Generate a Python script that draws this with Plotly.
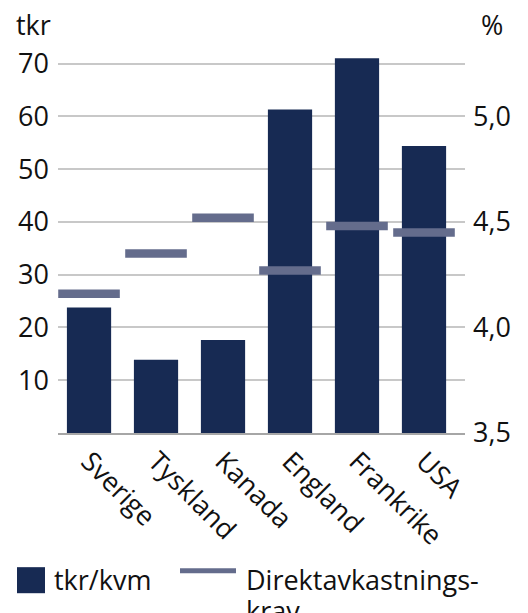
import plotly.graph_objects as go

categories = ["Sverige", "Tyskland", "Kanada", "England", "Frankrike", "USA"]
tkr_kvm = [23.8, 13.9, 17.6, 61.3, 71.0, 54.4]
direktavkastningskrav = [4.16, 4.35, 4.52, 4.27, 4.48, 4.45]
left_ticks = [10, 20, 30, 40, 50, 60, 70]
right_ticks = [3.5, 3.75, 4.0, 4.25, 4.5, 4.75, 5.0, 5.25]
right_labels = ["3,5", "", "4,0", "", "4,5", "", "5,0", ""]

BAR = "#172a53"
LINE = "#646c8c"
FONT = "Open Sans"
FS = 27

W, H = 528, 613
UNIT = 5.271          # px per left-axis unit
L, R, B = 58, 465, 433
YMAX = 72
T = B - YMAX * UNIT
pw, ph = R - L, B - T

def px(x):
    return (x - L) / pw

def py(y):
    return (B - y) / ph

fig = go.Figure()
fig.add_trace(go.Bar(x=categories, y=tkr_kvm, marker=dict(color=BAR, line=dict(width=0)),
                     width=0.66, showlegend=False, yaxis="y"))
fig.add_trace(go.Scatter(x=categories, y=direktavkastningskrav, mode="markers", yaxis="y2",
                         marker=dict(symbol="line-ew", size=44, color=LINE,
                                     line=dict(width=8.5, color=LINE)),
                         showlegend=False, cliponaxis=False))

fig.update_layout(
    width=W, height=H,
    margin=dict(l=L, r=W - R, t=T, b=H - B, pad=0),
    paper_bgcolor="white", plot_bgcolor="white",
    font=dict(family=FONT, size=FS, color="#111111"),
    xaxis=dict(type="category", range=[-0.463, 5.612], tickangle=45, showgrid=False,
               showline=True, linecolor="#a6a6a6", linewidth=1.5, ticks="",
               tickfont=dict(size=FS, family=FONT, color="#111111")),
    yaxis=dict(range=[0, YMAX], tickvals=left_ticks, showgrid=True, gridcolor="#c8c8c8",
               gridwidth=1.5, zeroline=False, showline=False, ticks="",
               ticklabelstandoff=8,
               tickfont=dict(size=FS, family=FONT, color="#111111")),
    yaxis2=dict(range=[3.5, 3.5 + YMAX / 40], overlaying="y", side="right", tickvals=right_ticks,
                ticktext=right_labels, showgrid=False, zeroline=False, showline=False,
                ticks="", ticklabelstandoff=7,
                tickfont=dict(size=FS, family=FONT, color="#111111")),
)

annotations = [
    dict(text="tkr", x=px(14), y=py(25), xanchor="left", yanchor="middle"),
    dict(text="%", x=px(479), y=py(25), xanchor="left", yanchor="middle"),
    dict(text="tkr/kvm", x=px(52), y=py(579), xanchor="left", yanchor="middle"),
    dict(text="Direktavkastnings-", x=px(244), y=py(579), xanchor="left", yanchor="middle"),
    dict(text="krav", x=px(244), y=py(610), xanchor="left", yanchor="middle"),
]
for a in annotations:
    fig.add_annotation(xref="paper", yref="paper", showarrow=False,
                       font=dict(size=FS, family=FONT, color="#111111"), **a)

fig.add_shape(type="rect", xref="paper", yref="paper", x0=px(17), x1=px(45),
              y0=py(593), y1=py(567), fillcolor=BAR, line=dict(width=0))
fig.add_shape(type="line", xref="paper", yref="paper", x0=px(180), x1=px(236),
              y0=py(570.5), y1=py(570.5), line=dict(color=LINE, width=5))

fig.write_html("out.html")
